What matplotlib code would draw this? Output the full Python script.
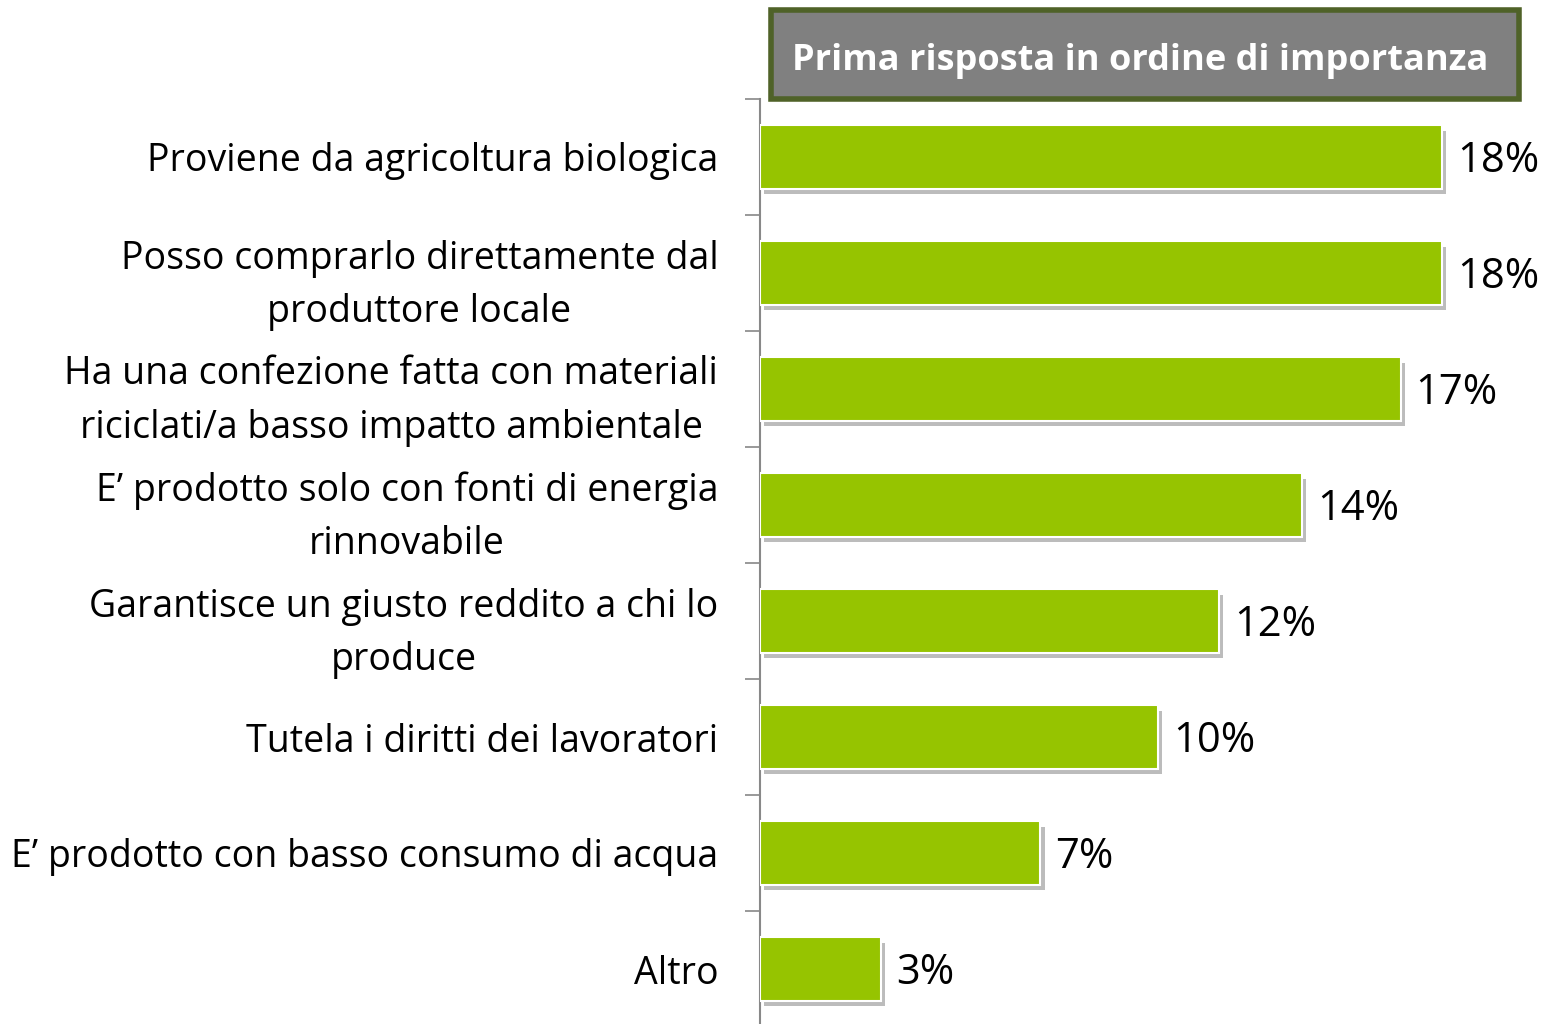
import matplotlib
matplotlib.use("Agg")
import matplotlib.pyplot as plt
from matplotlib import patheffects as pe
from matplotlib.patches import Rectangle
import numpy as np

categories = [
    "Proviene da agricoltura biologica",
    "Posso comprarlo direttamente dal\nproduttore locale",
    "Ha una confezione fatta con materiali\nriciclati/a basso impatto ambientale",
    "E\u2019 prodotto solo con fonti di energia\nrinnovabile",
    "Garantisce un giusto reddito a chi lo\nproduce",
    "Tutela i diritti dei lavoratori",
    "E\u2019 prodotto con basso consumo di acqua",
    "Altro",
]
values = [18.0, 18.0, 16.9, 14.3, 12.1, 10.5, 7.4, 3.2]
value_labels = ["18%", "18%", "17%", "14%", "12%", "10%", "7%", "3%"]
title = "Prima risposta in ordine di importanza"

plt.rcParams['font.family'] = ['Open Sans', 'DejaVu Sans']

W, H = 1555, 1024
fig = plt.figure(figsize=(W / 100, H / 100), dpi=100)

left = 760 / W
right = 1518 / W
top = (H - 99) / H
bottom = (H - 1027) / H
ax = fig.add_axes([left, bottom, right - left, top - bottom])

n = len(categories)
y = np.arange(n)
bars = ax.barh(y, values, height=0.55, color="#96C400", edgecolor="white",
               linewidth=1.5, zorder=3)
for b in bars:
    b.set_path_effects([pe.SimplePatchShadow(offset=(3, -4), shadow_rgbFace="#7a7a7a", alpha=0.5),
                        pe.Normal()])

ax.set_xlim(0, 20)
ax.set_ylim(n - 0.5, -0.5)

for yi, v, lab in zip(y, values, value_labels):
    ax.text(v + 0.4, yi + 0.035, lab, va="center", ha="left", fontsize=30, color="black")

ax.set_yticks(y)
ax.set_yticklabels(categories, fontsize=27, multialignment="center", linespacing=1.54)
ax.tick_params(axis="y", which="major", length=0, pad=30)
ax.set_yticks(np.arange(-0.5, n, 1.0), minor=True)
ax.tick_params(axis="y", which="minor", length=11, width=1.2, color="#888888")
ax.set_xticks([])
for s in ["top", "right", "bottom"]:
    ax.spines[s].set_visible(False)
ax.spines["left"].set_color("#888888")
ax.spines["left"].set_linewidth(1.5)

# title box
bx0, by0, bx1, by1 = 771 / W, (H - 99) / H, 1519 / W, (H - 10) / H
rect = Rectangle((bx0, by0), bx1 - bx0, by1 - by0, transform=fig.transFigure,
                 facecolor="#808080", edgecolor="#4F6228", linewidth=4)
fig.add_artist(rect)
fig.text((bx0 + bx1) / 2 - 0.003, (by0 + by1) / 2 - 0.006, title, ha="center", va="center",
         color="white", fontsize=26, fontweight="bold")

fig.savefig("out.png", dpi=100)
